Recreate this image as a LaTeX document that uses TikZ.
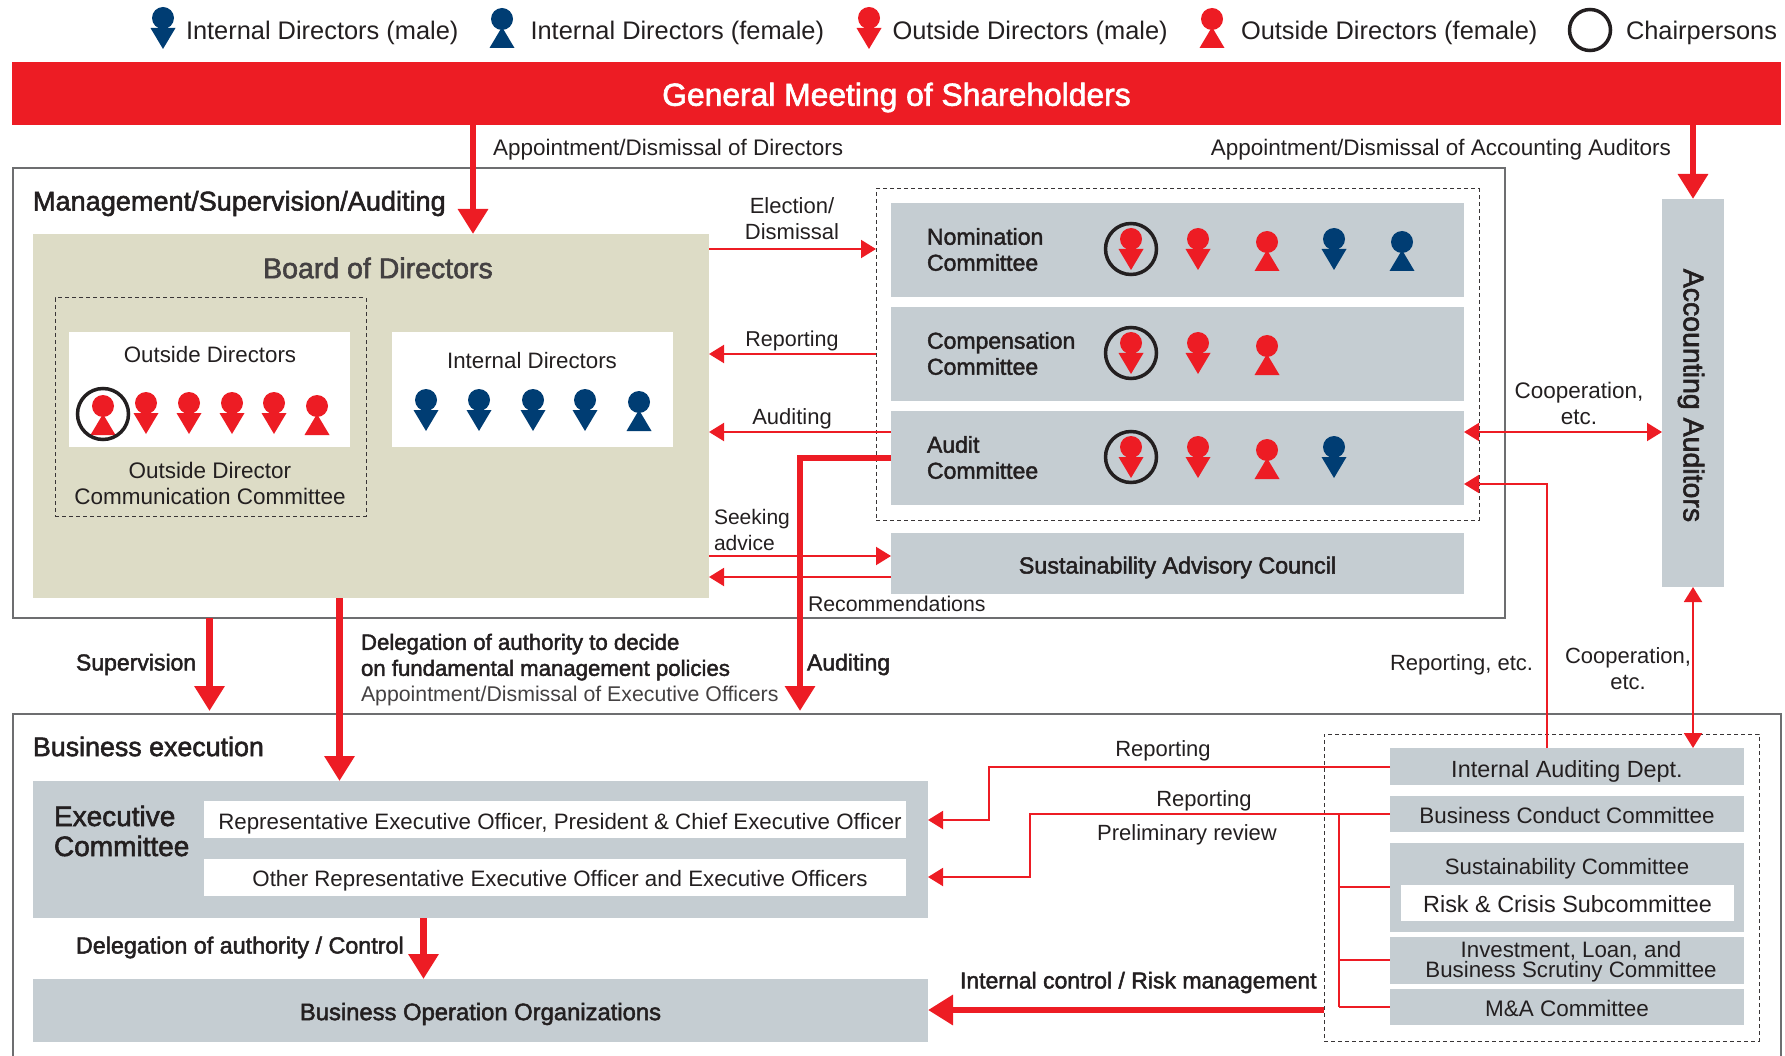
\documentclass[tikz,border=0pt]{standalone}
\usepackage{fontspec}
\setmainfont{Liberation Sans}
\newfontfamily\medf[FakeBold=2]{Liberation Sans}
\usetikzlibrary{arrows.meta,calc}
\definecolor{rd}{HTML}{ED1C24}
\definecolor{nv}{HTML}{003D73}
\definecolor{gb}{HTML}{C5CDD2}
\definecolor{bg}{HTML}{DDDCC6}
\definecolor{tx}{HTML}{231F20}
\definecolor{ol}{HTML}{6D6E70}
\newcommand\sz[1]{\fontsize{#1}{26}\selectfont}
\newcommand\sm[1]{\medf\fontsize{#1}{26}\selectfont}
\newcommand\dn[2]{\raisebox{-#1pt}[\height][\depth]{#2}}
\newcommand\bx[6]{\node[#6,minimum width={(#3-#1)*1pt},minimum height={(#4-#2)*1pt}] at ({(#1+#3)/2},{(#2+#4)/2})}
\tikzset{
  x=1pt,y=-1pt,
  >=Triangle,
  box/.style={inner sep=0pt,outer sep=0pt,fill=gb,text=tx,align=center,font=\sz{22}},
  wbox/.style={box,fill=white},
  dash box/.style={inner sep=0pt,outer sep=0pt,draw=tx!90,line width=1pt,dash pattern=on 4pt off 3pt},
  frame/.style={inner sep=0pt,outer sep=0pt,draw=ol,line width=1.5pt},
  lbl/.style={inner sep=0pt,outer sep=0pt,text=tx,align=center,font=\sz{22},yshift=-2.5pt},
  lblb/.style={lbl,font=\sm{23}},
  thin arrow/.style={draw=rd,line width=2pt,-{Triangle[length=15pt,width=18pt]}},
  both arrow/.style={draw=rd,line width=2pt,{Triangle[length=15pt,width=18pt]}-{Triangle[length=15pt,width=18pt]}},
  plain line/.style={draw=rd,line width=2pt},
  thick arrow/.style={draw=rd,line width=6.5pt,-{Triangle[length=25pt,width=29pt]}},
  male/.pic={\fill[#1] (0,0) circle (11pt); \fill[#1] (-12.5,10) -- (12.5,10) -- (0,31) -- cycle;},
  female/.pic={\fill[#1] (0,0) circle (11pt); \fill[#1] (0,8) -- (12.5,29) -- (-12.5,29) -- cycle;},
  chair/.pic={\draw[tx,line width=3.5pt] (0,0) circle (#1pt);},
}
\begin{document}
\begin{tikzpicture}
\useasboundingbox (0,0) rectangle (1785,1056);
% frames
\bx{13}{168}{1505}{618}{}{frame} (mgmt) {};
\draw[frame] (13,1056) -- (13,714) -- (1781,714) -- (1781,1056);
\coordinate (exectop) at (900,711);
% banner
\bx{12}{62}{1781}{125}{}{box,fill=rd,text=white,font=\sm{31.8}} (banner) {\dn{4}{General Meeting of Shareholders}};
% legend
\pic at (163,18) {male=nv};
\node[lbl,anchor=west,font=\sz{25.4}] (lg1) at (186,30) {Internal Directors (male)};
\pic at (502,19) {female=nv};
\node[lbl,anchor=west,font=\sz{25.4}] (lg2) at (530.5,30) {Internal Directors (female)};
\pic at (869,18) {male=rd};
\node[lbl,anchor=west,font=\sz{25.4}] (lg3) at (892.5,30) {Outside Directors (male)};
\pic at (1212,19) {female=rd};
\node[lbl,anchor=west,font=\sz{25.4}] (lg4) at (1241,30) {Outside Directors (female)};
\pic at (1590,30) {chair=20.5};
\node[lbl,anchor=west,font=\sz{25.4}] (lg5) at (1626,30) {Chairpersons};
% board
\bx{33}{234}{709}{598}{}{box,fill=bg} (board) {};
\node[lblb,font=\sm{28.5},text=tx!85] (boardt) at (378,265.5) {Board of Directors};
\bx{55}{298}{366}{516}{}{dash box} (odcc) {};
\bx{69}{332}{350}{447}{}{wbox} (od) {};
\bx{392}{332}{673}{447}{}{wbox} (id) {};
\node[lbl,font=\sz{22.3}] (odt) at (210,352.5) {Outside Directors};
\node[lbl,font=\sz{22.3}] (idt) at (532,358.5) {Internal Directors};
\node[lbl,font=\sz{22.5}] (odcct) at (210,480.5) {Outside Director\\Communication Committee};
\pic at (103,406) {female=rd};
\pic at (103,414) {chair=25.5};
\foreach \px in {146,189,232,274} {\pic at (\px,403) {male=rd};}
\pic at (317,406) {female=rd};
\foreach \px in {426,479,533,585} {\pic at (\px,400) {male=nv};}
\pic at (639,402) {female=nv};
% committees
\bx{876}{189}{1479}{520}{}{dash box} (cdash) {};
\bx{891}{203}{1464}{297}{}{box} (nom) {};
\bx{891}{307}{1464}{401}{}{box} (comp) {};
\bx{891}{411}{1464}{505}{}{box} (aud) {};
\bx{891}{533}{1464}{594}{}{box,font=\sm{23.3}} (sac) {\dn{4}{Sustainability Advisory Council}};
\node[lblb,anchor=west,align=left] (nomt) at (927,247) {Nomination\\Committee};
\node[lblb,anchor=west,align=left] (compt) at (927,351) {Compensation\\Committee};
\node[lblb,anchor=west,align=left] (audt) at (927,455) {Audit\\Committee};
\foreach \dy in {0,104,208} {
  \pic at (1131,239+\dy) {male=rd};
  \pic at (1131,249+\dy) {chair=25.5};
  \pic at (1198,239+\dy) {male=rd};
  \pic at (1267,242+\dy) {female=rd};
}
\pic at (1334,239) {male=nv};
\pic at (1402,242) {female=nv};
\pic at (1334,447) {male=nv};
% auditors
\bx{1662}{199}{1724}{587}{}{box} (aa) {};
\node[lblb,rotate=-90,font=\sm{28.5}] (aat) at (1691,393) {Accounting Auditors};
% business execution
\bx{33}{781}{928}{918}{}{box} (exec) {};
\node[lblb,anchor=west,align=left,font=\medf\fontsize{28}{30}\selectfont] (exect) at (54,828.5) {Executive\\Committee};
\bx{204}{801}{906}{838}{}{wbox,font=\sz{22.3}} (rep) {\dn{4.5}{\hspace*{10pt}Representative Executive Officer, President \& Chief Executive Officer}};
\bx{204}{859}{906}{896}{}{wbox,font=\sz{22.3}} (oth) {\dn{3.5}{\hspace*{10pt}Other Representative Executive Officer and Executive Officers}};
\bx{33}{979}{928}{1042}{}{box,font=\sm{23.8}} (bop) {\dn{3.5}{Business Operation Organizations}};
\bx{1324}{734}{1759}{1041}{}{dash box} (rdash) {};
\bx{1390}{748}{1744}{785}{}{box,font=\sz{23.4}} (iad) {\dn{4.5}{Internal Auditing Dept.}};
\bx{1390}{796}{1744}{832}{}{box,font=\sz{22.4}} (bcc) {\dn{1.5}{Business Conduct Committee}};
\bx{1390}{843}{1744}{932}{}{box} (sc) {};
\node[lbl,font=\sz{22.2}] (sct) at (1567,866) {Sustainability Committee};
\bx{1401}{885}{1734}{921}{}{wbox,font=\sz{23.4}} (rcs) {\dn{1.5}{Risk \& Crisis Subcommittee}};
\bx{1390}{937}{1744}{984}{}{box} (ilb) {};
\node[lbl,font=\fontsize{22.3}{18}\selectfont] (ilbt) at (1571,959) {Investment, Loan, and\\Business Scrutiny Committee};
\bx{1390}{989}{1744}{1025}{}{box,font=\sz{22.5}} (mna) {\dn{1.5}{M\&A Committee}};
% helper coordinates
\coordinate (c473) at (473,0);
\coordinate (c1693) at (1693,0);
\coordinate (c209) at (209.5,0);
\coordinate (c339) at (339.5,0);
\coordinate (c423) at (423.5,0);
\coordinate (c800) at (800,0);
\coordinate (c989) at (989,0);
\coordinate (c1030) at (1030,0);
\coordinate (c1339) at (1339,0);
\coordinate (c1547) at (1547,0);
\coordinate (r249) at (0,249);
\coordinate (r354) at (0,354);
\coordinate (r432) at (0,432);
\coordinate (r458) at (0,458);
\coordinate (r484) at (0,484);
\coordinate (r556) at (0,556);
\coordinate (r577) at (0,577);
\coordinate (r767) at (0,767);
\coordinate (r814) at (0,814);
\coordinate (r820) at (0,820);
\coordinate (r877) at (0,877);
\coordinate (r887) at (0,887);
\coordinate (r960) at (0,960);
\coordinate (r1007) at (0,1007);
\coordinate (r1010) at (0,1010);
% thick connectors
\draw[thick arrow] (banner.south -| c473) -- (board.north -| c473);
\draw[thick arrow] (banner.south -| c1693) -- (aa.north -| c1693);
\draw[thick arrow] (mgmt.south -| c209) -- (exectop -| c209);
\draw[thick arrow] (board.south -| c339) -- (exec.north -| c339);
\draw[thick arrow] (aud.west |- r458) -| (c800 |- exectop);
\draw[thick arrow] (exec.south -| c423) -- (bop.north -| c423);
\draw[thick arrow] (rdash.west |- r1010) -- (bop.east |- r1010);
% thin connectors
\draw[thin arrow] (board.east |- r249) -- (cdash.west |- r249);
\draw[thin arrow] (cdash.west |- r354) -- (board.east |- r354);
\draw[thin arrow] (aud.west |- r432) -- (board.east |- r432);
\draw[thin arrow] (board.east |- r556) -- (sac.west |- r556);
\draw[thin arrow] (sac.west |- r577) -- (board.east |- r577);
\draw[both arrow] (aud.east |- r432) -- (aa.west |- r432);
\draw[both arrow] (aa.south) -- (iad.north -| aa.south);
\draw[thin arrow] (iad.north -| c1547) |- (aud.east |- r484);
\draw[thin arrow] (iad.west |- r767) -- (c989 |- r767) -- (c989 |- r820) -- (exec.east |- r820);
\draw[thin arrow] (bcc.west |- r814) -- (c1030 |- r814) -- (c1030 |- r877) -- (exec.east |- r877);
\draw[plain line] (c1339 |- r814) -- (c1339 |- r1007);
\draw[plain line] (c1339 |- r887) -- (sc.west |- r887);
\draw[plain line] (c1339 |- r960) -- (ilb.west |- r960);
\draw[plain line] (c1339 |- r1007) -- (mna.west |- r1007);
% labels
\node[lbl,anchor=west,font=\sz{22.5}] (l1) at (493,147) {Appointment/Dismissal of Directors};
\node[lbl,anchor=east,font=\sz{22.5}] (l2) at (1671,147) {Appointment/Dismissal of Accounting Auditors};
\node[lblb,anchor=west,font=\sm{27.1}] (l3) at (33,201) {Management/Supervision/Auditing};
\node[lbl] (l4) at (792,216.5) {Election/\\Dismissal};
\node[lbl,font=\sz{21.5}] (l5) at (792,338) {Reporting};
\node[lbl] (l6) at (792,416) {Auditing};
\node[lbl,anchor=west,align=left,font=\sz{21}] (l7) at (714,527.5) {Seeking\\advice};
\node[lbl,anchor=west,font=\sz{21.3}] (l8) at (808,601) {Recommendations};
\node[lbl,font=\sz{22.5}] (l9) at (1579,400.5) {Cooperation,\\etc.};
\node[lblb,anchor=west] (l10) at (76,662) {Supervision};
\node[lbl,anchor=west,align=left,font=\sz{21.3}] (l11) at (361,667.5) {{\sm{22.2}Delegation of authority to decide}\\{\sm{22.2}on fundamental management policies}\\\textcolor{tx!85}{Appointment/Dismissal of Executive Officers}};
\node[lblb,anchor=west] (l12) at (807,662) {Auditing};
\node[lbl,anchor=west] (l13) at (1390,662) {Reporting, etc.};
\node[lbl] (l14) at (1628,666.5) {Cooperation,\\etc.};
\node[lblb,anchor=west,font=\sm{26.8}] (l15) at (33,744) {Business execution};
\node[lbl] (l16) at (1163,748) {Reporting};
\node[lbl] (l17) at (1204,798) {Reporting};
\node[lbl] (l18) at (1187,832) {Preliminary review};
\node[lblb,anchor=west,font=\sm{23.3}] (l19) at (76,945) {Delegation of authority / Control};
\node[lblb,anchor=west] (l20) at (960,980) {Internal control / Risk management};
\end{tikzpicture}
\end{document}
